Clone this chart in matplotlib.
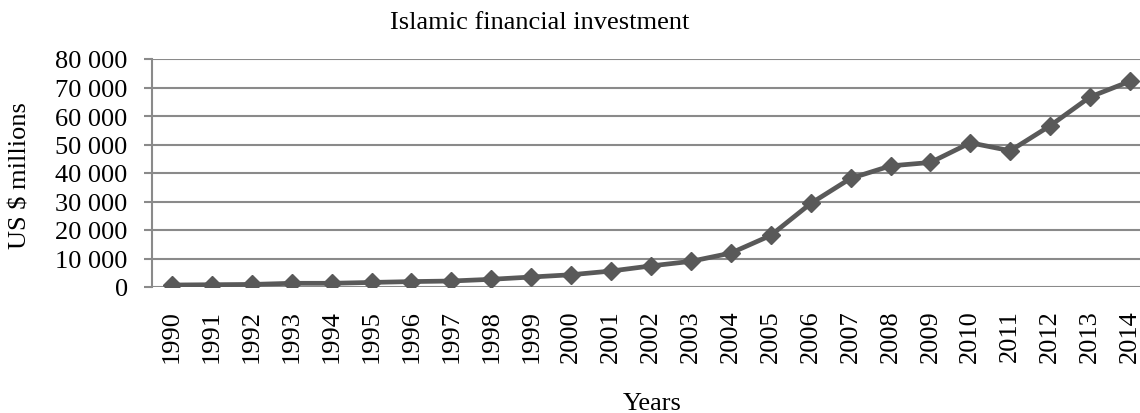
import numpy as np
import matplotlib
matplotlib.use("Agg")
import matplotlib.pyplot as plt
from matplotlib.ticker import FuncFormatter

years = [str(y) for y in range(1990, 2015)]
invest = [700, 800, 900, 1300, 1300, 1600, 1900, 2100, 2700, 3500,
          4300, 5600, 7400, 9000, 11900, 18100, 29300, 38100, 42500, 43700,
          50600, 47800, 56600, 66700, 72200]

plt.rcParams['font.family'] = ['Liberation Serif', 'DejaVu Serif']
fs = 19

fig = plt.figure(figsize=(11.4, 4.14), dpi=100)
# plot area runs slightly past the right edge, as in the reference
ax = fig.add_axes([152/1140, 126/414, 998/1140, 228/414])

x = np.arange(len(years))
ax.plot(x, invest, color='#595959', lw=3.4, marker='D', ms=9.5, zorder=3)

ax.set_xlim(-0.5, len(years) - 0.5)
ax.set_ylim(0, 80000)
ax.set_yticks(np.arange(0, 80001, 10000))
ax.yaxis.set_major_formatter(FuncFormatter(lambda v, p: f"{int(v):,}".replace(",", " ")))
ax.set_xticks(x)
ax.set_xticklabels(years, rotation=90)
ax.grid(axis='y', color='#8a8a8a', lw=1.5)
ax.set_axisbelow(True)

for s in ['top', 'right', 'bottom']:
    ax.spines[s].set_visible(False)
ax.spines['left'].set_color('#8a8a8a')
ax.spines['left'].set_linewidth(1.5)
ax.tick_params(axis='y', length=5.5, width=1.5, color='#8a8a8a', labelsize=fs, pad=12)
ax.tick_params(axis='x', length=0, labelsize=fs, pad=16)

fig.text(540/1140, 1 - 23/414, 'Islamic financial investment', ha='center', va='center', fontsize=fs)
fig.text(652/1140, 1 - 404/414, 'Years', ha='center', va='center', fontsize=fs)
fig.text(21/1140, 1 - 176/414, 'US $ millions', ha='center', va='center', rotation=90, fontsize=fs)

fig.savefig('out.png', dpi=100)
